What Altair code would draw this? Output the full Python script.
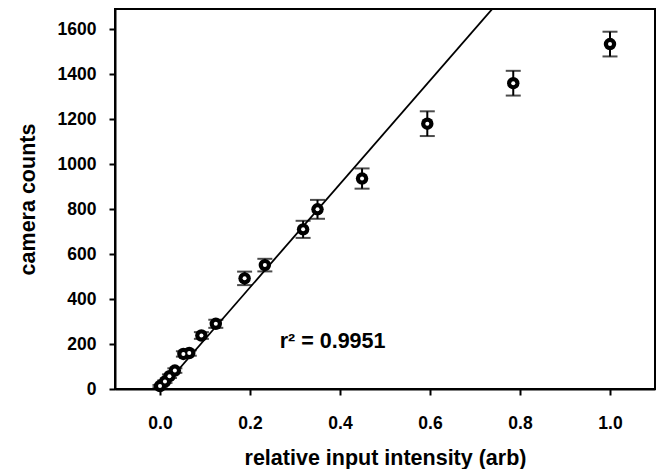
import altair as alt
import pandas as pd

# data
intensity = [0.000, 0.011, 0.021, 0.033, 0.052, 0.065, 0.092, 0.124, 0.188, 0.233,
             0.318, 0.350, 0.449, 0.594, 0.785, 1.000]
counts = [13, 33, 57, 82, 156, 160, 238, 290, 492, 551,
          710, 799, 936, 1180, 1360, 1534]
errors = [5, 6, 8, 10, 12, 12, 15, 18, 30, 28,
          38, 42, 45, 55, 55, 55]

fit_x = [0.004, 0.760]
fit_y = [1, 1740]

x_ticks = [0.0, 0.2, 0.4, 0.6, 0.8, 1.0]
y_ticks = [0, 200, 400, 600, 800, 1000, 1200, 1400, 1600]

df = pd.DataFrame({"x": intensity, "y": counts, "e": errors})
df["lo"] = df["y"] - df["e"]
df["hi"] = df["y"] + df["e"]
fit = pd.DataFrame({"x": fit_x, "y": fit_y})
ann = pd.DataFrame({"x": [0.266], "y": [182], "t": ["r\u00b2 = 0.9951"]})

FONT = "Liberation Sans"
xscale = alt.Scale(domain=[-0.1, 1.1], nice=False, zero=False)
yscale = alt.Scale(domain=[0, 1690], nice=False, zero=False)

xaxis = alt.Axis(values=x_ticks, format=".1f", title="relative input intensity (arb)",
                 labelPadding=19, titlePadding=16)
yaxis = alt.Axis(values=y_ticks, format="d", title="camera counts",
                 labelPadding=13, titlePadding=18)

X = alt.X("x:Q", scale=xscale, axis=xaxis)
Y = alt.Y("y:Q", scale=yscale, axis=yaxis)

line = alt.Chart(fit).mark_line(color="black", strokeWidth=1.8, clip=True).encode(x=X, y=Y)

err = alt.Chart(df).mark_rule(color="black", strokeWidth=2).encode(
    x=alt.X("x:Q", scale=xscale), y=alt.Y("lo:Q", scale=yscale), y2="hi:Q")
cap_hi = alt.Chart(df).mark_tick(color="black", orient="horizontal", size=15, thickness=2).encode(
    x=alt.X("x:Q", scale=xscale), y=alt.Y("hi:Q", scale=yscale))
cap_lo = alt.Chart(df).mark_tick(color="black", orient="horizontal", size=15, thickness=2).encode(
    x=alt.X("x:Q", scale=xscale), y=alt.Y("lo:Q", scale=yscale))

dots = alt.Chart(df).mark_point(shape="circle", filled=True, color="black", size=155, opacity=1).encode(
    x=alt.X("x:Q", scale=xscale), y=alt.Y("y:Q", scale=yscale))
centers = alt.Chart(df).mark_point(shape="circle", filled=True, color="white", size=16, opacity=1).encode(
    x=alt.X("x:Q", scale=xscale), y=alt.Y("y:Q", scale=yscale))

text = alt.Chart(ann).mark_text(align="left", baseline="alphabetic", font=FONT, fontSize=21.5,
                                fontWeight="bold", color="black").encode(
    x=alt.X("x:Q", scale=xscale), y=alt.Y("y:Q", scale=yscale), text="t:N")

chart = alt.layer(line, err, cap_hi, cap_lo, dots, centers, text).properties(
    width=540, height=380,
    autosize=alt.AutoSizeParams(type="none"),
    padding={"left": 107, "top": 1, "right": 4, "bottom": 80},
).configure_view(
    stroke="black", strokeWidth=2
).configure_axis(
    grid=False, domainColor="black", domainWidth=2, tickColor="black", tickWidth=2,
    tickSize=6, labelFont=FONT, labelFontSize=17.5, labelFontWeight="bold",
    labelColor="black", titleFont=FONT, titleFontSize=21.5, titleFontWeight="bold",
    titleColor="black"
)

chart.save("out.html", embed_options={"renderer": "svg", "actions": False})
